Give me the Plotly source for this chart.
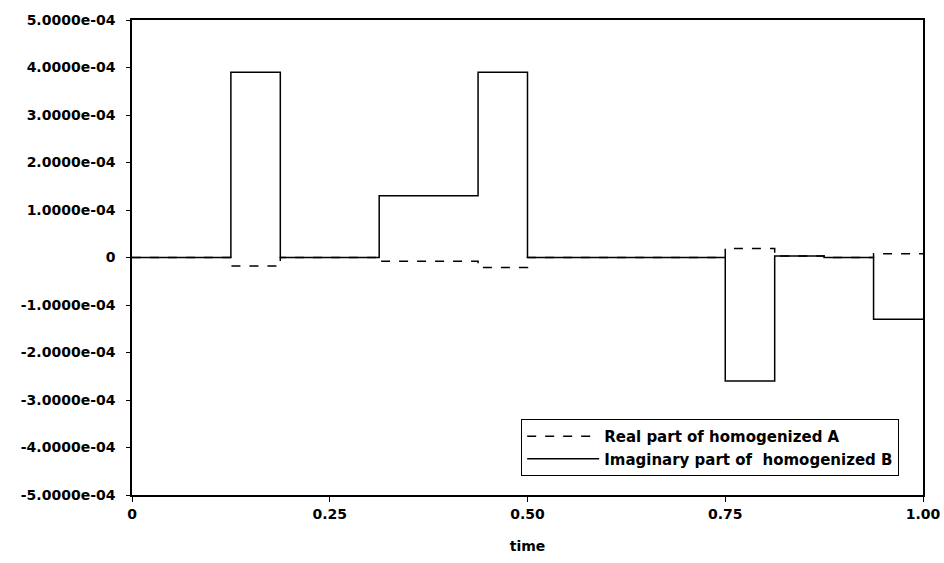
import plotly.graph_objects as go

# step boundaries in time
t_edges = [0, 0.125, 0.1875, 0.3125, 0.4375, 0.5, 0.75, 0.8125, 0.875, 0.9375, 1.0]
# value on each interval (last value repeated for the final edge)
real_A = [0, -1.8e-5, 0, -8e-6, -2.1e-5, 0, 1.9e-5, 3e-6, 0, 8e-6]
imag_B = [0, 3.9e-4, 0, 1.3e-4, 3.9e-4, 0, -2.6e-4, 3e-6, 0, -1.3e-4]

y_ticks = [-5e-4, -4e-4, -3e-4, -2e-4, -1e-4, 0, 1e-4, 2e-4, 3e-4, 4e-4, 5e-4]
y_labels = ["-5.0000e-04", "-4.0000e-04", "-3.0000e-04", "-2.0000e-04", "-1.0000e-04", "0",
            "1.0000e-04", "2.0000e-04", "3.0000e-04", "4.0000e-04", "5.0000e-04"]
x_ticks = [0, 0.25, 0.5, 0.75, 1.0]
x_labels = ["0", "0.25", "0.50", "0.75", "1.00"]

FONT = "DejaVu Sans"

fig = go.Figure()
fig.add_trace(go.Scatter(
    x=t_edges, y=real_A + [real_A[-1]], mode="lines", line_shape="hv",
    line=dict(color="black", width=1.5, dash="dash"),
    name="Real part of homogenized A"))
fig.add_trace(go.Scatter(
    x=t_edges, y=imag_B + [imag_B[-1]], mode="lines", line_shape="hv",
    line=dict(color="black", width=1.5),
    name="Imaginary part of  homogenized B"))

fig.update_layout(
    width=944, height=563,
    margin=dict(l=132, r=21, t=20, b=68),
    paper_bgcolor="white", plot_bgcolor="white",
    font=dict(family=FONT, size=14, color="black", weight="bold"),
    showlegend=True,
    legend=dict(x=0.492, y=0.16, xanchor="left", yanchor="top",
                bordercolor="black", borderwidth=1, bgcolor="white",
                font=dict(family=FONT, size=15, color="black", weight="bold"),
                itemwidth=72, tracegroupgap=0),
)
fig.update_xaxes(
    range=[0, 1], tickvals=x_ticks, ticktext=x_labels, automargin=False,
    showgrid=False, zeroline=False, showline=True, linecolor="black", linewidth=1.5,
    mirror=True, ticks="outside", ticklen=5, tickcolor="black",
    title=dict(text="time", standoff=21, font=dict(family=FONT, size=14, weight="bold")),
)
fig.update_yaxes(
    range=[-5e-4, 5e-4], tickvals=y_ticks, ticktext=y_labels, automargin=False,
    showgrid=False, zeroline=False, showline=True, linecolor="black", linewidth=1.5,
    mirror=True, ticks="outside", ticklen=4, tickcolor="black", ticklabelstandoff=8,
)

fig.write_html("out.html")
